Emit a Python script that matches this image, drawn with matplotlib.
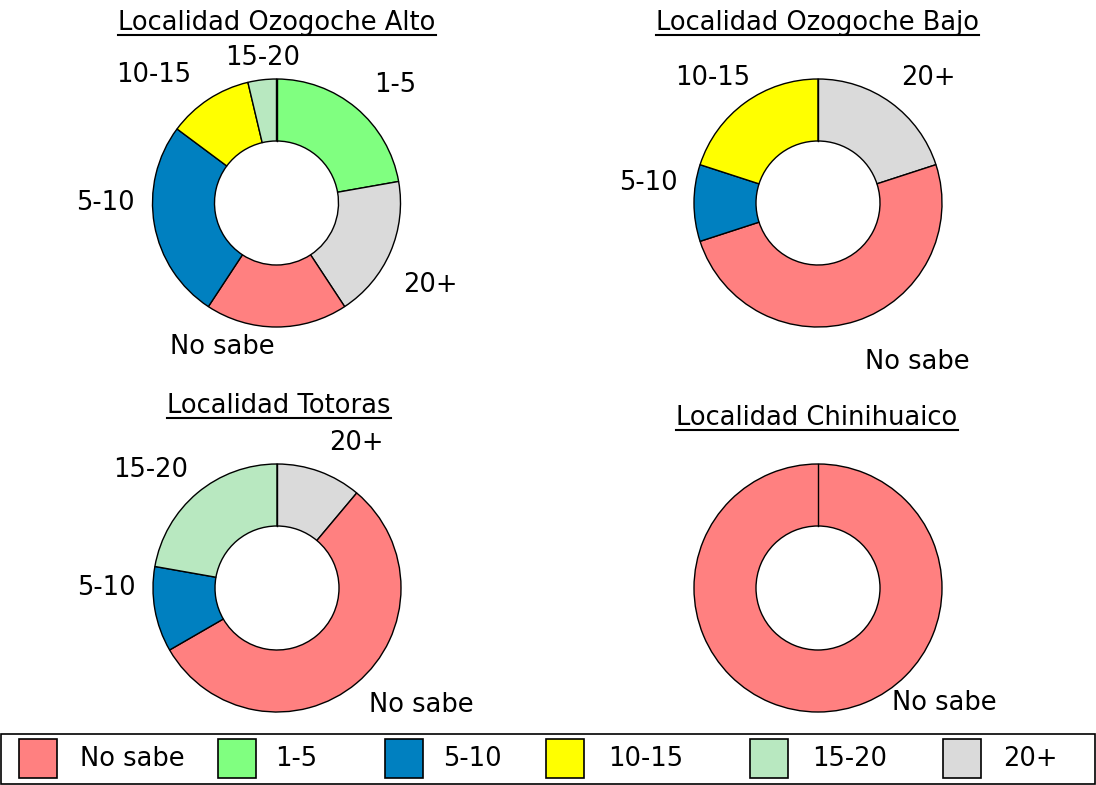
import numpy as np
import matplotlib.pyplot as plt
from matplotlib.patches import Rectangle
from matplotlib.lines import Line2D

# categories in legend order and their colours
categories = ['No sabe', '1-5', '5-10', '10-15', '15-20', '20+']
colors = ['#FF8080', '#80FF80', '#0080C0', '#FFFF00', '#B8E8C0', '#DADADA']

# slices are drawn clockwise from the top in this order
pie_order = ['1-5', '20+', 'No sabe', '5-10', '10-15', '15-20']
alto_vals = [6, 5, 5, 7, 3, 1]
bajo_vals = [0, 2, 5, 1, 2, 0]
totoras_vals = [0, 1, 5, 1, 0, 2]
chini_vals = [0, 0, 1, 0, 0, 0]

titles = ['Localidad Ozogoche Alto', 'Localidad Ozogoche Bajo',
          'Localidad Totoras', 'Localidad Chinihuaico']

W, H = 1096, 785
R = 124  # donut radius in px
FS = 18.5

def fx(x):
    return x / W

def fy(y):
    return 1 - y / H

# layout: donut centres, title baselines, label offsets (in radii)
centres = [(276.5, 203), (818, 203), (277, 588), (818, 588)]
title_pos = [(277, 30), (817, 30), (279, 413), (817, 425)]
label_pos = [
    {'1-5': (0.96, 0.95), '20+': (1.24, -0.66), 'No sabe': (-0.44, -1.16),
     '5-10': (-1.38, 0.0), '10-15': (-0.99, 1.03), '15-20': (-0.11, 1.17)},
    {'20+': (0.89, 1.01), 'No sabe': (0.80, -1.28), '5-10': (-1.37, 0.16),
     '10-15': (-0.85, 1.01)},
    {'20+': (0.64, 1.17), 'No sabe': (1.16, -0.94), '5-10': (-1.38, 0.0),
     '15-20': (-1.02, 0.95)},
    {'No sabe': (1.02, -0.93)},
]

color_of = dict(zip(categories, colors))

fig = plt.figure(figsize=(W / 100, H / 100), dpi=100)

all_vals = [alto_vals, bajo_vals, totoras_vals, chini_vals]
title_texts = []
for vals, (cx, cy), title, tp, lp in zip(all_vals, centres, titles, title_pos, label_pos):
    ax = fig.add_axes([fx(cx - 1.5 * R), fy(cy + 1.5 * R), 3 * R / W, 3 * R / H])
    names = [n for n, v in zip(pie_order, vals) if v > 0]
    sizes = [v for v in vals if v > 0]
    ax.pie(sizes, colors=[color_of[n] for n in names], startangle=90,
           counterclock=False, radius=1,
           wedgeprops=dict(width=0.5, edgecolor='black', linewidth=1))
    # edge at the start angle (visible even when one slice fills the ring)
    ax.plot([0, 0], [0.5, 1], color='black', linewidth=1)
    ax.set_xlim(-1.5, 1.5)
    ax.set_ylim(-1.5, 1.5)
    ax.axis('off')
    for n in names:
        dx, dy = lp[n]
        ax.text(dx, dy, n, ha='center', va='center', fontsize=FS)
    t = fig.text(fx(tp[0]), fy(tp[1]), title, ha='center', va='baseline', fontsize=FS)
    title_texts.append((t, tp[1]))

# underline the titles
fig.canvas.draw()
renderer = fig.canvas.get_renderer()
for t, base in title_texts:
    bb = t.get_window_extent(renderer)
    fig.add_artist(Line2D([bb.x0 / W, bb.x1 / W], [fy(base + 5)] * 2,
                          color='black', linewidth=1.5))

# legend box along the bottom
fig.add_artist(Rectangle((fx(1), fy(784)), 1094 / W, 50 / H, fill=False,
                         edgecolor='black', linewidth=1.2))
patch_x = [19, 218, 385, 546, 750, 943]
text_x = [80, 275, 443, 608, 812, 1003]
for cat, col, px, tx in zip(categories, colors, patch_x, text_x):
    fig.add_artist(Rectangle((fx(px), fy(778)), 38 / W, 39 / H,
                             facecolor=col, edgecolor='black', linewidth=1.2))
    fig.text(fx(tx), fy(759), cat, ha='left', va='center', fontsize=FS)

fig.savefig('out.png', dpi=100)
